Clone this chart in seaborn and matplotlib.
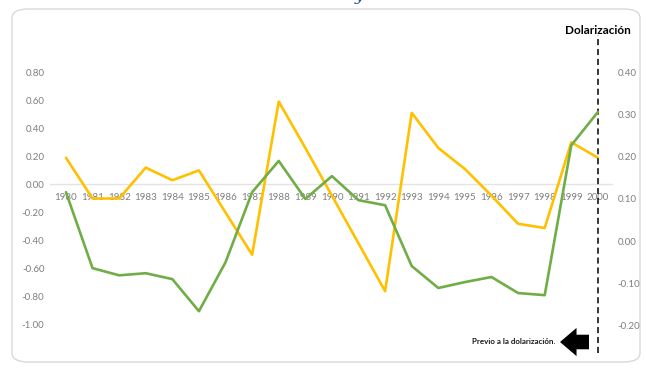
import matplotlib
matplotlib.use("Agg")
import matplotlib.pyplot as plt
import seaborn as sns
import pandas as pd
from matplotlib.patches import FancyBboxPatch

years = list(range(1980, 2001))
serie_amarilla = [0.19, -0.10, -0.10, 0.12, 0.03, 0.10, -0.20, -0.50, 0.59, 0.26,
                  -0.08, -0.42, -0.76, 0.51, 0.26, 0.11, -0.08, -0.28, -0.31, 0.30, 0.19]
serie_verde = [0.116, -0.064, -0.081, -0.076, -0.090, -0.166, -0.050, 0.116, 0.190, 0.100,
               0.154, 0.097, 0.085, -0.059, -0.111, -0.097, -0.085, -0.123, -0.128, 0.227, 0.306]
left_ticks = [0.8, 0.6, 0.4, 0.2, 0.0, -0.2, -0.4, -0.6, -0.8, -1.0]
right_ticks = [0.4, 0.3, 0.2, 0.1, 0.0, -0.1, -0.2]
titulo_derecha = "Dolarización"
nota = "Previo a la dolarización."

sns.set_theme(style="white")
plt.rcParams['font.family'] = ['Lato', 'DejaVu Sans']

W, H = 646, 372
fig = plt.figure(figsize=(W / 100, H / 100), dpi=100)

# rounded frame
frame = FancyBboxPatch((12 / W, 10 / H), 628 / W, 353 / H,
                       boxstyle="round,pad=0,rounding_size=0.025",
                       transform=fig.transFigure, facecolor="none",
                       edgecolor="#D9D9D9", linewidth=1.0, zorder=-1)
fig.patches.append(frame)

ax_left, ax_right_px, ax_top, ax_bot = 50, 612, 44, 353
ax = fig.add_axes([ax_left / W, (H - ax_bot) / H, (ax_right_px - ax_left) / W, (ax_bot - ax_top) / H])
ax.patch.set_alpha(0)
ax2 = ax.twinx()
ax2.patch.set_alpha(0)

df = pd.DataFrame({"year": years, "a": serie_amarilla, "v": serie_verde})
sns.lineplot(data=df, x="year", y="a", ax=ax, color="#FFC000", linewidth=1.9)
sns.lineplot(data=df, x="year", y="v", ax=ax2, color="#70AD47", linewidth=1.9)

ax.set_xlim(1979.4, 2000.53)
ax.set_ylim(-1.20, 1.0)
ax2.set_ylim(-0.265, 0.467)

ax.set_yticks(left_ticks)
ax.set_yticklabels([f"{v:.2f}" for v in left_ticks])
ax2.set_yticks(right_ticks)
ax2.set_yticklabels([f"{v:.2f}" for v in right_ticks])
ax.set_xticks(years)
ax.set_xticklabels([str(y) for y in years])

for a in (ax, ax2):
    a.set_xlabel("")
    a.set_ylabel("")
    for s in ["top", "left", "right", "bottom"]:
        a.spines[s].set_visible(False)
    a.grid(False)

ax.spines["bottom"].set_visible(True)
ax.spines["bottom"].set_position(("data", 0))
ax.spines["bottom"].set_color("#E3E3E3")
ax.spines["bottom"].set_linewidth(1.0)
ax.spines["bottom"].set_zorder(0)

ax.tick_params(axis="x", length=0, pad=6, labelsize=7, labelcolor="#7F7F7F")
ax.tick_params(axis="y", length=0, pad=4, labelsize=7, labelcolor="#7F7F7F")
ax2.tick_params(axis="y", length=0, pad=4, labelsize=7, labelcolor="#7F7F7F")

# dashed line at dollarization
ax.axvline(2000, ymin=0, ymax=(ax_bot - 35) / (ax_bot - ax_top), color="black",
           linestyle=(0, (4, 2.5)), linewidth=1.1, clip_on=False, zorder=5)

fig.text(631 / W, 1 - 30 / H, titulo_derecha, ha="right", va="center",
         fontsize=8.5, fontweight="bold", color="black")

# arrow and note
ax_arrow = fig.add_axes([0, 0, 1, 1])
ax_arrow.set_xlim(0, W)
ax_arrow.set_ylim(H, 0)
ax_arrow.axis("off")
ax_arrow.patch.set_alpha(0)
ax_arrow.annotate("", xy=(560, 342), xytext=(589, 342),
                  arrowprops=dict(arrowstyle="simple,head_length=0.85,head_width=1.45,tail_width=0.75",
                                  color="black", lw=0, shrinkA=0, shrinkB=0,
                                  mutation_scale=14))
ax_arrow.text(555, 341, nota, ha="right", va="center", fontsize=5.8,
              fontweight="bold", color="#1a1a1a")

fig.text(359 / W, 1.0, "y", ha="center", va="baseline", fontsize=12,
         color="#2F5597", family=["DejaVu Serif"], style="italic")

fig.savefig("out.png", dpi=100)
